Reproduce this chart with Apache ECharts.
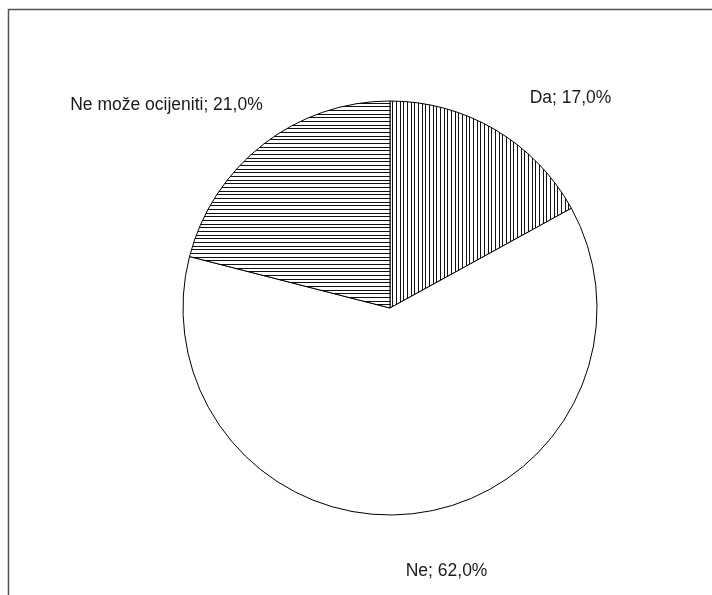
<!DOCTYPE html>
<html>
<head>
<meta charset="utf-8">
<script src="https://cdn.jsdelivr.net/npm/echarts@6/dist/echarts.min.js"></script>
<style>
  html, body { margin: 0; padding: 0; background: #fff; }
  #chart { width: 712px; height: 595px; }
</style>
</head>
<body>
<div id="chart"></div>
<script>
// Survey answers and their shares (%)
const categories = ['Da', 'Ne', 'Ne može ocijeniti'];
const shares = [17.0, 62.0, 21.0];

// Fine placement of each outside label (pixel offsets)
const labelShift = [[4, -6], [-29, 28], [33, -16]];

// Hatched fills: vertical stripes, none, horizontal stripes
function stripes(vertical) {
  const c = document.createElement('canvas');
  c.width = 11; c.height = 11;
  const g = c.getContext('2d');
  g.fillStyle = '#fff';
  g.fillRect(0, 0, 11, 11);
  g.strokeStyle = '#111';
  g.lineWidth = 1;
  for (let k = 0; k < 3; k++) {
    const p = Math.round(k * 11 / 3) + 0.5;
    g.beginPath();
    if (vertical) { g.moveTo(p, 0); g.lineTo(p, 11); }
    else { g.moveTo(0, p); g.lineTo(11, p); }
    g.stroke();
  }
  return { image: c, repeat: 'repeat' };
}
const fills = [stripes(true), '#ffffff', stripes(false)];

const chart = echarts.init(document.getElementById('chart'), null, { renderer: 'canvas' });
chart.setOption({
  backgroundColor: '#ffffff',
  animation: false,
  graphic: [{
    type: 'polyline',
    shape: { points: [[8.5, 600], [8.5, 9.5], [720, 9.5]] },
    style: { stroke: '#555', lineWidth: 1.5, fill: null }
  }],
  series: [{
    type: 'pie',
    center: [390, 308],
    radius: 207,
    startAngle: 90,
    clockwise: true,
    silent: true,
    data: categories.map((name, i) => ({
      name, value: shares[i],
      itemStyle: { color: fills[i] }
    })),
    itemStyle: { borderColor: '#000', borderWidth: 1 },
    label: {
      show: true,
      position: 'outside',
      fontFamily: '"Liberation Sans", Arial, sans-serif',
      fontSize: 17.5,
      color: '#1a1a1a',
      formatter: p => p.name + '; ' + p.value.toFixed(1).replace('.', ',') + '%'
    },
    labelLine: { show: false, length: 30, length2: 10 },
    labelLayout: p => ({ dx: labelShift[p.dataIndex][0], dy: labelShift[p.dataIndex][1] })
  }]
});
</script>
</body>
</html>
